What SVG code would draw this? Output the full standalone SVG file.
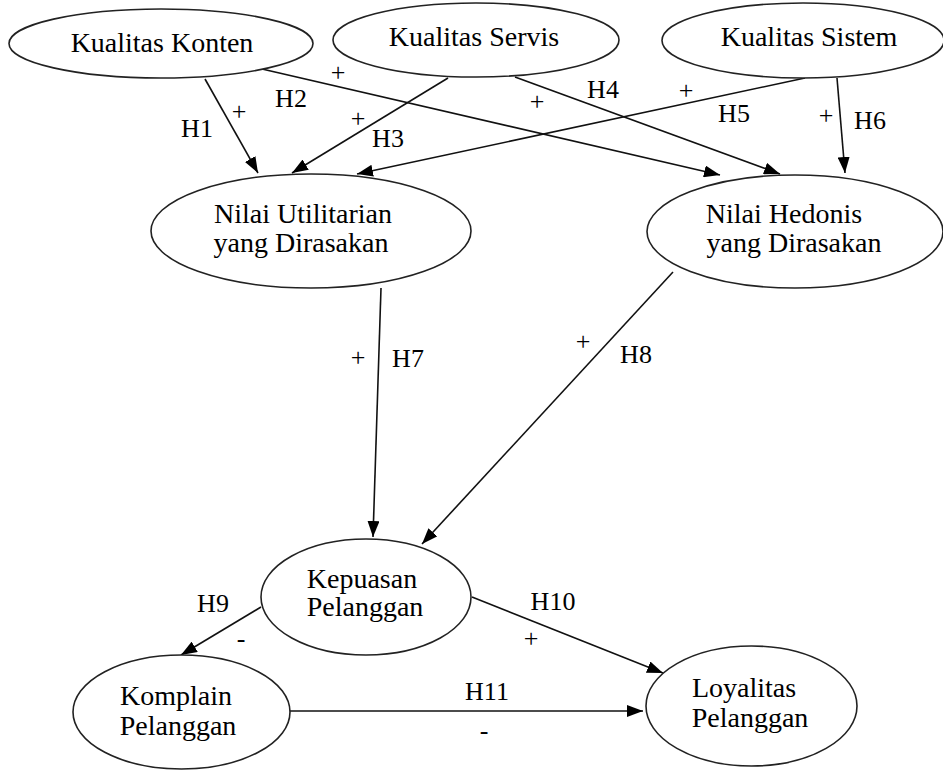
<svg xmlns="http://www.w3.org/2000/svg" width="943" height="772" viewBox="0 0 943 772" font-family="'Liberation Serif', 'DejaVu Serif', serif">
<defs>
<marker id="ah" viewBox="0 0 16 12" refX="16" refY="6" markerWidth="16" markerHeight="12" markerUnits="userSpaceOnUse" orient="auto">
<path d="M0,0 L16,6 L0,12 Z" fill="#000"/>
</marker>
</defs>
<style>
.n ellipse{fill:#fff;stroke:#222;stroke-width:1.6}
.n text{font-family:'Liberation Serif','DejaVu Serif',serif;font-size:28px;fill:#000;text-anchor:middle}
#edges line{stroke:#111;stroke-width:1.6;marker-end:url(#ah)}
.l{font-family:'Liberation Serif','DejaVu Serif',serif;font-size:26px;fill:#000;text-anchor:middle}
</style>
<rect width="943" height="772" fill="#fff"/>
<g id="edges">
<line x1="205" y1="79" x2="258" y2="173"/>
<line x1="262" y1="69" x2="720" y2="175"/>
<line x1="448" y1="78" x2="292" y2="173"/>
<line x1="515" y1="77" x2="780" y2="174"/>
<line x1="805" y1="78" x2="357" y2="174"/>
<line x1="837" y1="78" x2="845" y2="173"/>
<line x1="381" y1="288" x2="373" y2="537"/>
<line x1="673" y1="272" x2="422" y2="544"/>
<line x1="261" y1="607" x2="181" y2="655"/>
<line x1="472" y1="597" x2="663" y2="673"/>
<line x1="290" y1="711" x2="643" y2="711"/>
</g>
<g id="konten" class="n"><ellipse cx="161" cy="43.5" rx="152" ry="34.5"/><text x="162" y="52">Kualitas Konten</text></g>
<g id="servis" class="n"><ellipse cx="476" cy="40" rx="143" ry="37"/><text x="474" y="46">Kualitas Servis</text></g>
<g id="sistem" class="n"><ellipse cx="803" cy="40.5" rx="141" ry="37.5"/><text x="809" y="46">Kualitas Sistem</text></g>
<g id="utilitarian" class="n"><ellipse cx="311" cy="231" rx="160" ry="57"/><text x="303" y="223">Nilai Utilitarian</text><text x="301" y="252">yang Dirasakan</text></g>
<g id="hedonis" class="n"><ellipse cx="795" cy="231.5" rx="148" ry="56.5"/><text x="784" y="223">Nilai Hedonis</text><text x="794" y="252">yang Dirasakan</text></g>
<g id="kepuasan" class="n"><ellipse cx="366" cy="597" rx="105" ry="58"/><text x="362" y="588">Kepuasan</text><text x="365" y="616">Pelanggan</text></g>
<g id="komplain" class="n"><ellipse cx="181.5" cy="712" rx="108.5" ry="57"/><text x="176" y="705">Komplain</text><text x="178" y="735">Pelanggan</text></g>
<g id="loyalitas" class="n"><ellipse cx="751.5" cy="706" rx="105.5" ry="60"/><text x="744" y="697">Loyalitas</text><text x="750" y="727">Pelanggan</text></g>
<g id="labels">
<text class="l" x="197" y="137">H1</text>
<text class="l" x="239" y="120">+</text>
<text class="l" x="291" y="107">H2</text>
<text class="l" x="338" y="81">+</text>
<text class="l" x="358" y="127">+</text>
<text class="l" x="388" y="147">H3</text>
<text class="l" x="537" y="110">+</text>
<text class="l" x="603" y="98">H4</text>
<text class="l" x="686" y="99">+</text>
<text class="l" x="734" y="122">H5</text>
<text class="l" x="826" y="124">+</text>
<text class="l" x="870" y="129">H6</text>
<text class="l" x="358" y="366">+</text>
<text class="l" x="408" y="367">H7</text>
<text class="l" x="583" y="350">+</text>
<text class="l" x="636" y="363">H8</text>
<text class="l" x="213" y="612">H9</text>
<text class="l" x="241" y="647">-</text>
<text class="l" x="553" y="610">H10</text>
<text class="l" x="531" y="647">+</text>
<text class="l" x="487" y="700">H11</text>
<text class="l" x="484" y="739">-</text>
</g>
</svg>
